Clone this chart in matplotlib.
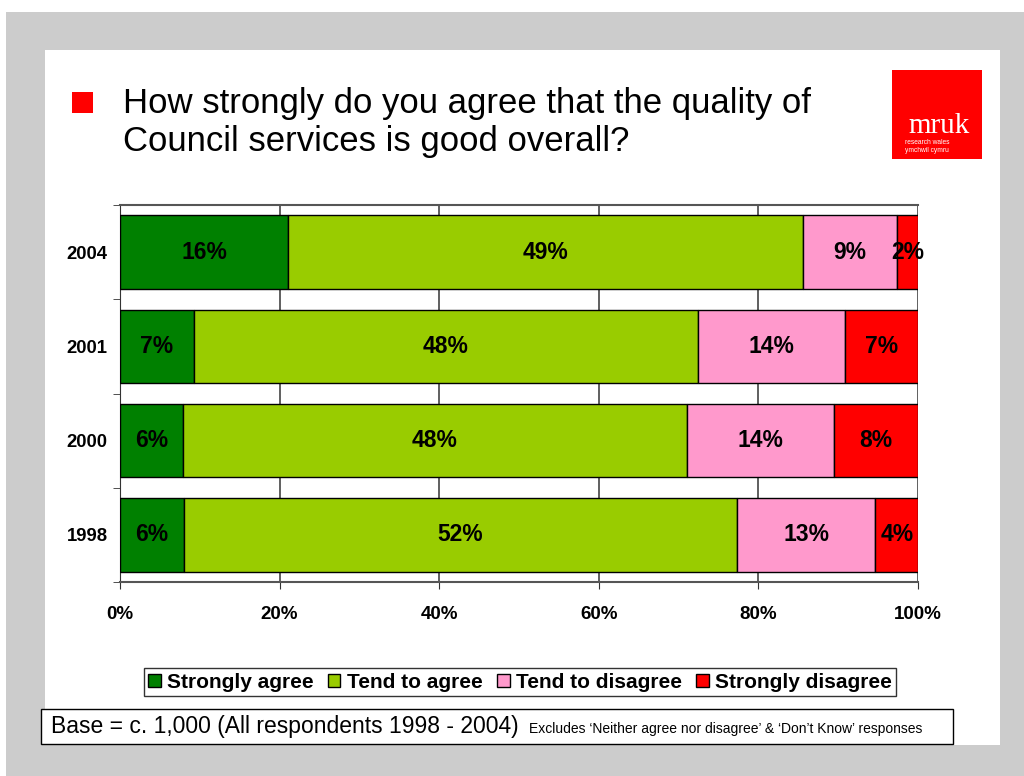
import numpy as np
import matplotlib.pyplot as plt
from matplotlib.patches import Rectangle

plt.rcParams['font.family'] = ['Liberation Sans', 'DejaVu Sans']

years = ['1998', '2000', '2001', '2004']
categories = ['Strongly agree', 'Tend to agree', 'Tend to disagree', 'Strongly disagree']
strongly_agree = [6, 6, 7, 16]
tend_agree = [52, 48, 48, 49]
tend_disagree = [13, 14, 14, 9]
strongly_disagree = [4, 8, 7, 2]
colors = ['#008000', '#99cc00', '#ff99cc', '#ff0000']

series = np.array([strongly_agree, tend_agree, tend_disagree, strongly_disagree], dtype=float)
shares = series / series.sum(axis=0) * 100

fig = plt.figure(figsize=(10.24, 7.76), dpi=100)
fig.patch.set_facecolor('white')

# grey slide frame with white panel
W, H = 1024, 776
def px(x, y, w, h):
    return (x / W, 1 - (y + h) / H, w / W, h / H)

x0, y0, w0, h0 = px(6, 12, 1018, 764)
fig.patches.append(Rectangle((x0, y0), w0, h0, transform=fig.transFigure,
                             facecolor='#cccccc', edgecolor='none', zorder=-3))
x0, y0, w0, h0 = px(45, 50, 955, 695)
fig.patches.append(Rectangle((x0, y0), w0, h0, transform=fig.transFigure,
                             facecolor='white', edgecolor='none', zorder=-2))

# title bullet and question
x0, y0, w0, h0 = px(72, 92, 21, 21)
fig.patches.append(Rectangle((x0, y0), w0, h0, transform=fig.transFigure,
                             facecolor='#ff0000', edgecolor='none'))
fig.text(123 / W, 1 - 103 / H, 'How strongly do you agree that the quality of',
         fontsize=25, va='center', ha='left')
fig.text(123 / W, 1 - 141 / H, 'Council services is good overall?',
         fontsize=25, va='center', ha='left')

# logo
x0, y0, w0, h0 = px(892, 70, 90, 89)
fig.patches.append(Rectangle((x0, y0), w0, h0, transform=fig.transFigure,
                             facecolor='#ff0000', edgecolor='none'))
fig.text(939 / W, 1 - 126 / H, 'mruk', fontsize=21, color='white',
         family='Liberation Serif', ha='center', va='center')
fig.text(905 / W, 1 - 142 / H, 'research wales', fontsize=4.8, color='white',
         ha='left', va='center')
fig.text(905 / W, 1 - 150 / H, 'ymchwil cymru', fontsize=4.8, color='white',
         ha='left', va='center')

ax = fig.add_axes(px(120, 205, 798, 377))
y = np.arange(len(years))
left = np.zeros(len(years))
handles = []
for i, cat in enumerate(categories):
    bars = ax.barh(y, shares[i], left=left, height=0.78, color=colors[i],
                   edgecolor='black', linewidth=1, label=cat, zorder=3)
    handles.append(bars)
    for j in range(len(years)):
        ax.text(left[j] + shares[i][j] / 2, y[j], f'{int(series[i][j])}%',
                ha='center', va='center', fontsize=16.5, fontweight='bold', zorder=4)
    left += shares[i]

ax.set_xlim(0, 100)
ax.set_ylim(-0.5, 3.5)
ax.set_xticks(np.arange(0, 101, 20))
ax.set_xticklabels([f'{v}%' for v in range(0, 101, 20)], fontsize=13.5, fontweight='bold')
ax.set_yticks(y)
ax.set_yticklabels(years, fontsize=13.3, fontweight='bold')
ax.set_yticks(np.arange(-0.5, 4, 1), minor=True)
ax.tick_params(axis='y', which='major', length=0, pad=9)
ax.tick_params(axis='y', which='minor', length=5, direction='out', color='#333333')
ax.tick_params(axis='x', length=5, direction='out', pad=12, color='#333333')
ax.grid(axis='x', color='#444444', linewidth=1.2, zorder=0)
ax.set_axisbelow(True)
for s in ['top', 'bottom']:
    ax.spines[s].set_color('#555555')
    ax.spines[s].set_linewidth(1.5)
ax.spines['left'].set_color('#333333')
ax.spines['right'].set_visible(False)

leg = fig.legend(handles=handles, labels=categories, loc='center',
                 bbox_to_anchor=(520 / W, 1 - 682 / H), ncol=4, frameon=True,
                 fancybox=False, edgecolor='black', handlelength=0.6,
                 handleheight=0.6, handletextpad=0.3, columnspacing=0.7,
                 borderpad=0.2, borderaxespad=0, prop={'size': 15, 'weight': 'bold'})
leg.get_frame().set_linewidth(1)

# footnote box
x0, y0, w0, h0 = px(41, 709, 912, 35)
fig.patches.append(Rectangle((x0, y0), w0, h0, transform=fig.transFigure,
                             facecolor='white', edgecolor='black', linewidth=1))
fig.text(51 / W, 1 - 727 / H, 'Base = c. 1,000 (All respondents 1998 - 2004)',
         fontsize=16.5, ha='left', va='center')
fig.text(529 / W, 1 - 729 / H,
         "Excludes \u2018Neither agree nor disagree\u2019 & \u2018Don\u2019t Know\u2019 responses",
         fontsize=10, ha='left', va='center')

fig.savefig('out.png', dpi=100)
